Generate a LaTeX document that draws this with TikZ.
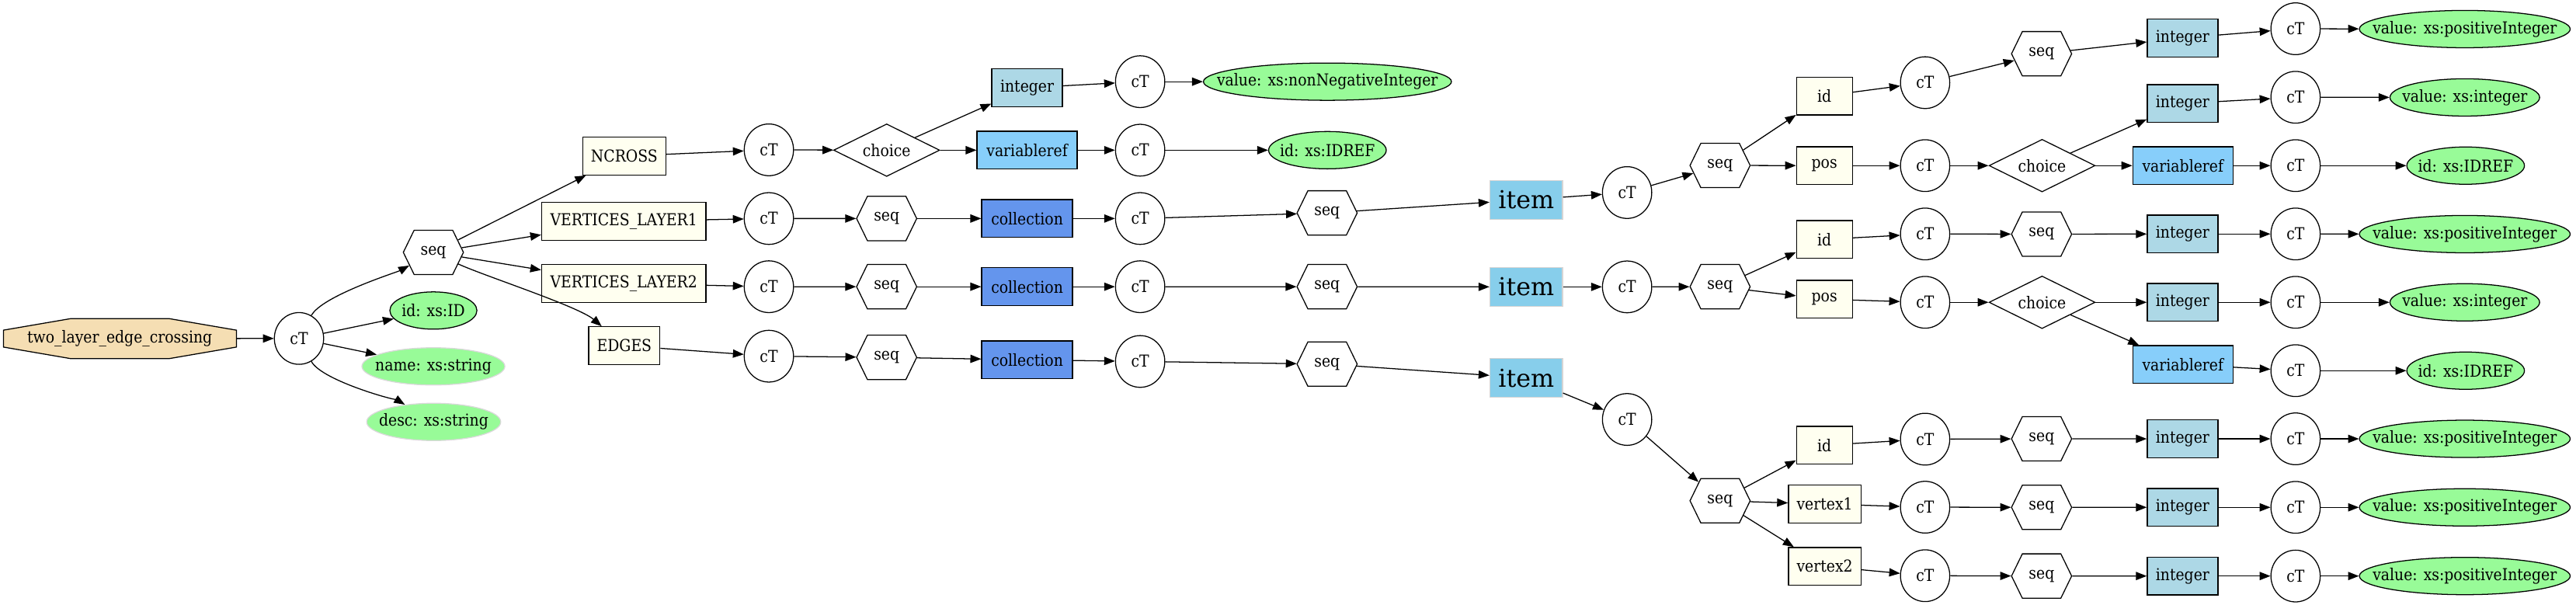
\documentclass[tikz,border=0pt]{standalone}
\usepackage{fontspec}
\setmainfont{DejaVu Serif}[FakeStretch=0.89]
\newfontfamily\itemfont{DejaVu Serif}
\usepackage{tikz}
\usetikzlibrary{arrows.meta,shapes.geometric,shapes.symbols}

\definecolor{wheat}{HTML}{F5DEB3}
\definecolor{ivory}{HTML}{FFFFF0}
\definecolor{lightblue}{HTML}{ADD8E6}
\definecolor{lightskyblue}{HTML}{87CEFA}
\definecolor{cornflower}{HTML}{6495ED}
\definecolor{skyblue}{HTML}{87CEEB}
\definecolor{palegreen}{HTML}{98FB98}

\begin{document}
\begin{tikzpicture}[x=1pt,y=1pt,yscale=-1,xscale=1,line width=0.6pt,
  font=\fontsize{10}{12}\selectfont,
  arr/.style={-{Triangle[length=6.6pt,width=5pt]}},
  ctnode/.style={ellipse,draw,fill=white,inner sep=0pt,minimum width=30pt,minimum height=31.5pt},
  seqnode/.style={signal,signal to=east and west,signal pointer angle=128,draw,fill=white,inner xsep=3pt,inner ysep=0pt,minimum width=36.6pt,minimum height=27pt},
  choicenode/.style={diamond,aspect=2,draw,fill=white,inner sep=0pt,minimum width=64.6pt,minimum height=32pt},
  elembox/.style={rectangle,draw,fill=ivory,inner sep=0pt,minimum height=23pt},
  intbox/.style={rectangle,draw,fill=lightblue,inner sep=0pt,minimum width=43pt,minimum height=23pt},
  varbox/.style={rectangle,draw,fill=lightskyblue,inner sep=0pt,minimum width=61pt,minimum height=23pt},
  colbox/.style={rectangle,draw,fill=cornflower,inner sep=0pt,minimum width=55.3pt,minimum height=23pt},
  itembox/.style={rectangle,draw=black!17,fill=skyblue,inner sep=0pt,minimum width=44.2pt,minimum height=23.6pt,font=\itemfont\fontsize{15}{18}\selectfont},
  valnode/.style={ellipse,draw,fill=palegreen,inner xsep=-40pt,inner ysep=0pt,minimum height=22.7pt},
  attrnode/.style={valnode,draw=black!15}]
\useasboundingbox (0,0) rectangle (1568,368);

% root
\coordinate (rootc) at (72.9,206.1);
\draw[fill=wheat] (rootc) ++(-70.8,-5.15) -- ++(41.1,-7.05) -- ++(59.6,0) -- ++(41.1,7.05) -- ++(0,10.3) -- ++(-41.1,7.05) -- ++(-59.6,0) -- ++(-41.1,-7.05) -- cycle;
\node[minimum width=141.6pt,minimum height=24.4pt,inner sep=0pt] (root) at (rootc) {two\_layer\_edge\_crossing};
\node[ctnode] (ct0) at (182,206) {cT};
\node[seqnode] (seq0) at (263.8,153.6) {seq};
\node[valnode,minimum width=53pt] (attrID) at (263.8,189) {id: xs:ID};
\node[attrnode,minimum width=87pt] (attrName) at (263.8,223) {name: xs:string};
\node[attrnode,minimum width=81.6pt] (attrDesc) at (264,256.8) {desc: xs:string};

% elements
\node[elembox,minimum width=50.6pt] (ncross) at (380,95) {NCROSS};
\node[elembox,minimum width=100pt] (vl1) at (379.7,134.7) {VERTICES\_LAYER1};
\node[elembox,minimum width=100pt] (vl2) at (379.7,172.5) {VERTICES\_LAYER2};
\node[elembox,minimum width=43.4pt] (edges) at (380,210.4) {EDGES};

% NCROSS
\node[ctnode] (ctN) at (468,91.2) {cT};
\node[choicenode] (choiceN) at (539.7,91.4) {choice};
\node[intbox] (intN) at (625.2,53.4) {integer};
\node[ctnode] (ctNi) at (694,49.7) {cT};
\node[valnode,minimum width=151pt] (valN) at (808,49.7) {value: xs:nonNegativeInteger};
\node[varbox] (varN) at (625.2,91.4) {variableref};
\node[ctnode] (ctNv) at (694,91.4) {cT};
\node[valnode,minimum width=71.6pt] (idrefN) at (808,91.4) {id: xs:IDREF};

% VERTICES_LAYER1
\node[ctnode] (ctV1) at (468,133) {cT};
\node[seqnode] (seqV1) at (539.7,133) {seq};
\node[colbox] (colV1) at (625.2,133) {collection};
\node[ctnode] (ctV1c) at (694,133) {cT};
\node[seqnode] (seqV1c) at (807.8,129.6) {seq};
\node[itembox] (item1) at (929,121.6) {item};

% VERTICES_LAYER2
\node[ctnode] (ctV2) at (468,174.5) {cT};
\node[seqnode] (seqV2) at (539.7,174.5) {seq};
\node[colbox] (colV2) at (625.2,174.5) {collection};
\node[ctnode] (ctV2c) at (694,174.5) {cT};
\node[seqnode] (seqV2c) at (807.8,174.5) {seq};
\node[itembox] (item2) at (929,174.6) {item};

% EDGES
\node[ctnode] (ctE) at (468,216.8) {cT};
\node[seqnode] (seqE) at (539.7,217.5) {seq};
\node[colbox] (colE) at (625.2,219) {collection};
\node[ctnode] (ctEc) at (694,220) {cT};
\node[seqnode] (seqEc) at (807.8,221.6) {seq};
\node[itembox] (item3) at (929,230) {item};

% item 1
\node[ctnode] (ctI1) at (990.4,117.2) {cT};
\node[seqnode] (seqI1) at (1047,100.7) {seq};
\node[elembox,minimum width=34pt] (id1) at (1110.5,58.4) {id};
\node[ctnode] (ctId1) at (1171.8,50.3) {cT};
\node[seqnode] (seqId1) at (1242.7,32.7) {seq};
\node[intbox] (intId1) at (1328.5,23.1) {integer};
\node[ctnode] (ctId1i) at (1397.3,17.5) {cT};
\node[valnode,minimum width=128.3pt] (valId1) at (1500.3,17.7) {value: xs:positiveInteger};
\node[elembox,minimum width=34pt] (pos1) at (1110.5,100.8) {pos};
\node[ctnode] (ctPos1) at (1171.8,100.8) {cT};
\node[choicenode] (choicePos1) at (1243,100.8) {choice};
\node[intbox] (intPos1) at (1328.5,63) {integer};
\node[ctnode] (ctPos1i) at (1397.3,59.2) {cT};
\node[valnode,minimum width=91.1pt] (valPos1) at (1500.3,59.3) {value: xs:integer};
\node[varbox] (varPos1) at (1328.7,100.8) {variableref};
\node[ctnode] (ctPos1v) at (1397.3,100.8) {cT};
\node[valnode,minimum width=71.6pt] (idrefPos1) at (1500.8,100.8) {id: xs:IDREF};

% item 2
\node[ctnode] (ctI2) at (990.4,174.6) {cT};
\node[seqnode] (seqI2) at (1047,174.5) {seq};
\node[elembox,minimum width=34pt] (id2) at (1110.5,145.7) {id};
\node[ctnode] (ctId2) at (1171.8,142.4) {cT};
\node[seqnode] (seqId2) at (1242.7,142.5) {seq};
\node[intbox] (intId2) at (1328.5,142.4) {integer};
\node[ctnode] (ctId2i) at (1397.3,142.4) {cT};
\node[valnode,minimum width=128.3pt] (valId2) at (1500.3,142.5) {value: xs:positiveInteger};
\node[elembox,minimum width=34pt] (pos2) at (1110.5,182.1) {pos};
\node[ctnode] (ctPos2) at (1171.8,184) {cT};
\node[choicenode] (choicePos2) at (1243,184) {choice};
\node[intbox] (intPos2) at (1328.5,184) {integer};
\node[ctnode] (ctPos2i) at (1397.3,184) {cT};
\node[valnode,minimum width=91.1pt] (valPos2) at (1500.3,184) {value: xs:integer};
\node[varbox] (varPos2) at (1328.7,221.8) {variableref};
\node[ctnode] (ctPos2v) at (1397.3,225.6) {cT};
\node[valnode,minimum width=71.6pt] (idrefPos2) at (1500.8,225.6) {id: xs:IDREF};

% item 3
\node[ctnode] (ctI3) at (990.4,255.3) {cT};
\node[seqnode] (seqI3) at (1047,304.8) {seq};
\node[elembox,minimum width=34pt] (id3) at (1110.5,271) {id};
\node[ctnode] (ctId3) at (1171.8,267.3) {cT};
\node[seqnode] (seqId3) at (1242.7,267.1) {seq};
\node[intbox] (intId3) at (1328.5,267.1) {integer};
\node[ctnode] (ctId3i) at (1397.3,267.1) {cT};
\node[valnode,minimum width=128.3pt] (valId3) at (1500.3,267.1) {value: xs:positiveInteger};
\node[elembox,minimum width=44.2pt] (vx1) at (1110.7,306.8) {vertex1};
\node[ctnode] (ctVx1) at (1171.8,308.7) {cT};
\node[seqnode] (seqVx1) at (1242.7,308.8) {seq};
\node[intbox] (intVx1) at (1328.5,308.8) {integer};
\node[ctnode] (ctVx1i) at (1397.3,308.8) {cT};
\node[valnode,minimum width=128.3pt] (valVx1) at (1500.3,308.8) {value: xs:positiveInteger};
\node[elembox,minimum width=44.2pt] (vx2) at (1110.7,344.7) {vertex2};
\node[ctnode] (ctVx2) at (1171.8,350.4) {cT};
\node[seqnode] (seqVx2) at (1242.7,350.6) {seq};
\node[intbox] (intVx2) at (1328.5,350.6) {integer};
\node[ctnode] (ctVx2i) at (1397.3,350.6) {cT};
\node[valnode,minimum width=128.3pt] (valVx2) at (1500.3,350.6) {value: xs:positiveInteger};

% connectors
\draw[arr] (root) -- (ct0);
\draw[arr] (ct0) .. controls +(14,-26) and +(-22,12) .. (seq0);
\draw[arr] (ct0) -- (attrID);
\draw[arr] (ct0) -- (attrName);
\draw[arr] (ct0) .. controls +(14,26) and +(-20,-12) .. (attrDesc);
\draw[arr] (seq0) -- (ncross);
\draw[arr] (seq0) -- (vl1);
\draw[arr] (seq0) -- (vl2);
\draw[arr] (seq0) .. controls +(30,14) and +(-28,-24) .. (edges);

\draw[arr] (ncross) -- (ctN);
\draw[arr] (ctN) -- (choiceN);
\draw[arr] (choiceN) -- (intN);
\draw[arr] (intN) -- (ctNi);
\draw[arr] (ctNi) -- (valN);
\draw[arr] (choiceN) -- (varN);
\draw[arr] (varN) -- (ctNv);
\draw[arr] (ctNv) -- (idrefN);

\draw[arr] (vl1) -- (ctV1);
\draw[arr] (ctV1) -- (seqV1);
\draw[arr] (seqV1) -- (colV1);
\draw[arr] (colV1) -- (ctV1c);
\draw[arr] (ctV1c) -- (seqV1c);
\draw[arr] (seqV1c) -- (item1);

\draw[arr] (vl2) -- (ctV2);
\draw[arr] (ctV2) -- (seqV2);
\draw[arr] (seqV2) -- (colV2);
\draw[arr] (colV2) -- (ctV2c);
\draw[arr] (ctV2c) -- (seqV2c);
\draw[arr] (seqV2c) -- (item2);

\draw[arr] (edges) -- (ctE);
\draw[arr] (ctE) -- (seqE);
\draw[arr] (seqE) -- (colE);
\draw[arr] (colE) -- (ctEc);
\draw[arr] (ctEc) -- (seqEc);
\draw[arr] (seqEc) -- (item3);

\draw[arr] (item1) -- (ctI1);
\draw[arr] (ctI1) -- (seqI1);
\draw[arr] (seqI1) -- (id1);
\draw[arr] (id1) -- (ctId1);
\draw[arr] (ctId1) -- (seqId1);
\draw[arr] (seqId1) -- (intId1);
\draw[arr] (intId1) -- (ctId1i);
\draw[arr] (ctId1i) -- (valId1);
\draw[arr] (seqI1) -- (pos1);
\draw[arr] (pos1) -- (ctPos1);
\draw[arr] (ctPos1) -- (choicePos1);
\draw[arr] (choicePos1) -- (intPos1);
\draw[arr] (intPos1) -- (ctPos1i);
\draw[arr] (ctPos1i) -- (valPos1);
\draw[arr] (choicePos1) -- (varPos1);
\draw[arr] (varPos1) -- (ctPos1v);
\draw[arr] (ctPos1v) -- (idrefPos1);

\draw[arr] (item2) -- (ctI2);
\draw[arr] (ctI2) -- (seqI2);
\draw[arr] (seqI2) -- (id2);
\draw[arr] (id2) -- (ctId2);
\draw[arr] (ctId2) -- (seqId2);
\draw[arr] (seqId2) -- (intId2);
\draw[arr] (intId2) -- (ctId2i);
\draw[arr] (ctId2i) -- (valId2);
\draw[arr] (seqI2) -- (pos2);
\draw[arr] (pos2) -- (ctPos2);
\draw[arr] (ctPos2) -- (choicePos2);
\draw[arr] (choicePos2) -- (intPos2);
\draw[arr] (intPos2) -- (ctPos2i);
\draw[arr] (ctPos2i) -- (valPos2);
\draw[arr] (choicePos2) -- (varPos2);
\draw[arr] (varPos2) -- (ctPos2v);
\draw[arr] (ctPos2v) -- (idrefPos2);

\draw[arr] (item3) -- (ctI3);
\draw[arr] (ctI3) -- (seqI3);
\draw[arr] (seqI3) -- (id3);
\draw[arr] (id3) -- (ctId3);
\draw[arr] (ctId3) -- (seqId3);
\draw[arr] (seqId3) -- (intId3);
\draw[arr] (intId3) -- (ctId3i);
\draw[arr] (ctId3i) -- (valId3);
\draw[arr] (seqI3) -- (vx1);
\draw[arr] (vx1) -- (ctVx1);
\draw[arr] (ctVx1) -- (seqVx1);
\draw[arr] (seqVx1) -- (intVx1);
\draw[arr] (intVx1) -- (ctVx1i);
\draw[arr] (ctVx1i) -- (valVx1);
\draw[arr] (seqI3) -- (vx2);
\draw[arr] (vx2) -- (ctVx2);
\draw[arr] (ctVx2) -- (seqVx2);
\draw[arr] (seqVx2) -- (intVx2);
\draw[arr] (intVx2) -- (ctVx2i);
\draw[arr] (ctVx2i) -- (valVx2);
\end{tikzpicture}
\end{document}
